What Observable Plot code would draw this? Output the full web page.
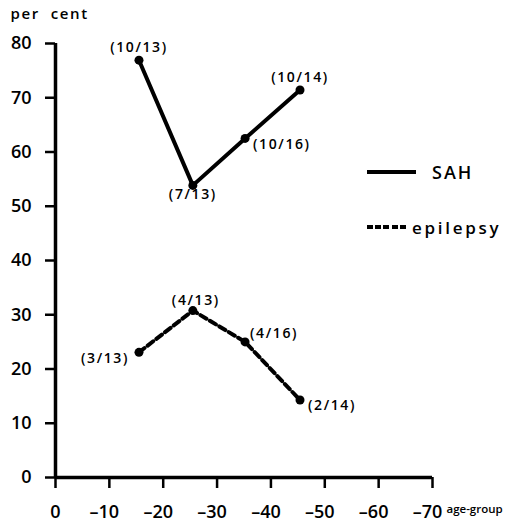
<!DOCTYPE html>
<html>
<head>
<meta charset="utf-8">
<script src="https://cdn.jsdelivr.net/npm/d3@7"></script>
<script src="https://cdn.jsdelivr.net/npm/@observablehq/plot@0.6"></script>
<style>
  html, body { margin: 0; padding: 0; background: #fff; overflow: hidden; }
  #wrap { position: relative; width: 505px; height: 527px; font-family: "Open Sans", "DejaVu Sans", sans-serif; font-weight: 600; color: #000; }
  #wrap svg text { font-weight: 600; }
  #wrap svg g[aria-label="text"] text { letter-spacing: 1.6px; }
  #wrap svg g[aria-label="text"] text.tight { letter-spacing: 0; }
  .key { position: absolute; display: flex; align-items: center; white-space: nowrap; }
  .swatch { width: 49px; height: 4px; margin-right: 16px; background: #000; }
  .swatch.dashed { width: 41px; margin-right: 4px; background: repeating-linear-gradient(90deg, #000 0 6px, transparent 6px 8.2px); }
</style>
</head>
<body>
<div id="wrap"></div>
<script>
// Age groups (x) and the proportion of cases in each group, as counts
const ageGroups = [-15.5, -25.5, -35.2, -45.4];
const sahCases = [10, 7, 10, 10];
const sahTotals = [13, 13, 16, 14];
const epilepsyCases = [3, 4, 4, 2];
const epilepsyTotals = [13, 13, 16, 14];

const xTicks = [0, -10, -20, -30, -40, -50, -60, -70];
const yTicks = [0, 10, 20, 30, 40, 50, 60, 70, 80];
const seriesNames = ["SAH", "epilepsy"];
const yTitle = "per  cent";
const xTitle = "age-group";

// Rows for each series: percentage computed from the stated counts
function rows(series, cases, totals) {
  return ageGroups.map((x, i) => ({
    series, x,
    pct: (cases[i] / totals[i]) * 100,
    label: `(${cases[i]}/${totals[i]})`
  }));
}
const sah = rows(seriesNames[0], sahCases, sahTotals);
const epilepsy = rows(seriesNames[1], epilepsyCases, epilepsyTotals);

// Where each count label sits relative to its point
const placements = {
  top: {textAnchor: "middle", lineAnchor: "bottom", dx: 0, dy: -8},
  topRight: {textAnchor: "middle", lineAnchor: "bottom", dx: 3, dy: -6},
  bottom: {textAnchor: "middle", lineAnchor: "top", dx: 0, dy: 4},
  right: {textAnchor: "start", lineAnchor: "middle", dx: 8, dy: 6},
  upperRight: {textAnchor: "start", lineAnchor: "middle", dx: 5, dy: -8},
  left: {textAnchor: "end", lineAnchor: "middle", dx: -10, dy: 6}
};
const sahPlace = ["top", "bottom", "right", "top"];
const epilepsyPlace = ["left", "topRight", "upperRight", "right"];
const labelled = [
  ...sah.map((d, i) => ({...d, place: sahPlace[i]})),
  ...epilepsy.map((d, i) => ({...d, place: epilepsyPlace[i]}))
];

const font = "'Open Sans', 'DejaVu Sans', sans-serif";
const minus = d => (d === 0 ? "0" : "\u2013" + Math.abs(d));

const chart = Plot.plot({
  width: 505,
  height: 527,
  marginLeft: 55,
  marginRight: 73,
  marginTop: 43,
  marginBottom: 50,
  x: {domain: [0, -70]},
  y: {domain: [0, 80]},
  style: {fontFamily: font, background: "white", color: "black"},
  marks: [
    // y axis: ticks and labels
    Plot.axisY({ticks: yTicks, tickSize: 10, tickPadding: 14, fontSize: 18, strokeWidth: 2.5, label: null}),
    // x axis ticks
    Plot.axisX({ticks: xTicks, tickSize: 11, strokeWidth: 2.5, tickFormat: () => "", label: null}),
    // x axis labels
    Plot.axisX({ticks: [0], tickSize: 0, tickPadding: 28, fontSize: 18, tickFormat: minus, label: null}),
    Plot.axisX({ticks: xTicks.slice(1), tickSize: 0, tickPadding: 28, fontSize: 18, dx: -5, tickFormat: minus, label: null}),
    // axis lines
    Plot.ruleX([0], {y1: 0, y2: 80, strokeWidth: 3.5}),
    Plot.ruleY([0], {x1: 0, x2: -70, strokeWidth: 3.5}),
    // series
    Plot.line(sah, {x: "x", y: "pct", strokeWidth: 4}),
    Plot.line(epilepsy, {x: "x", y: "pct", strokeWidth: 4, strokeDasharray: "7,4"}),
    Plot.dot([...sah, ...epilepsy], {x: "x", y: "pct", r: 4.5, fill: "black"}),
    // count labels
    ...Object.entries(placements).map(([key, p]) =>
      Plot.text(labelled.filter(d => d.place === key), {
        x: "x", y: "pct", text: "label", fontSize: 14, ...p
      })
    ),
    // axis titles
    Plot.text([yTitle], {frameAnchor: "top-left", dx: -45, dy: -25, textAnchor: "start", lineAnchor: "bottom", fontSize: 15, fontWeight: "bold"}),
    Plot.text([xTitle], {frameAnchor: "bottom-right", dx: 14, dy: 35, textAnchor: "start", lineAnchor: "bottom", fontSize: 11.5})
  ]
});

const wrap = document.getElementById("wrap");
wrap.appendChild(chart);
// the x title sits in the narrow space right of the axis: keep it unspaced
d3.select(chart).selectAll("text").filter(function () { return this.textContent === xTitle; }).classed("tight", true);

// Legend
const keyStyles = [
  {cls: "swatch", top: 160, left: 367, font: 18, spacing: 2},
  {cls: "swatch dashed", top: 215, left: 367, font: 17, spacing: 2.7}
];
seriesNames.forEach((name, i) => {
  const k = keyStyles[i];
  const row = document.createElement("div");
  row.className = "key";
  row.style.top = k.top + "px";
  row.style.left = k.left + "px";
  row.style.height = "24px";
  const sw = document.createElement("div");
  sw.className = k.cls;
  const label = document.createElement("span");
  label.textContent = name;
  label.style.fontSize = k.font + "px";
  label.style.letterSpacing = k.spacing + "px";
  row.appendChild(sw);
  row.appendChild(label);
  wrap.appendChild(row);
});
</script>
</body>
</html>
